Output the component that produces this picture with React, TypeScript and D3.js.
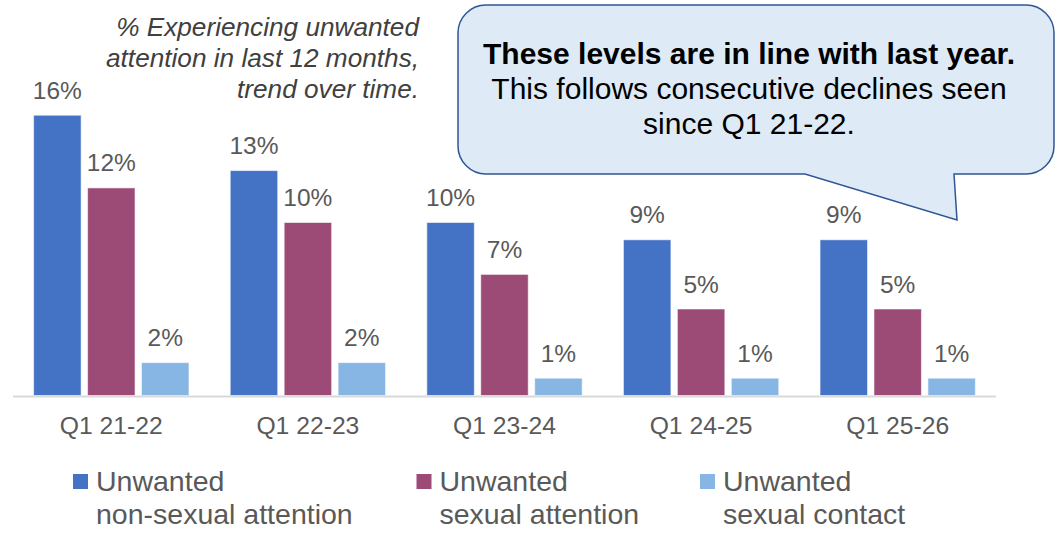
import React from "react";
import * as d3 from "d3";

const categories = ["Q1 21-22", "Q1 22-23", "Q1 23-24", "Q1 24-25", "Q1 25-26"];
const nonSexual = [16.2, 13.0, 10.0, 9.0, 9.0];
const sexualAttention = [12.0, 10.0, 7.0, 5.0, 5.0];
const sexualContact = [1.9, 1.9, 1.0, 1.0, 1.0];
const seriesKeys = ["nonSexual", "sexualAttention", "sexualContact"];
const seriesValues = [nonSexual, sexualAttention, sexualContact];
const seriesColors = ["#4472c4", "#9c4b76", "#88b6e4"];
const legendLines = [
  ["Unwanted", "non-sexual attention"],
  ["Unwanted", "sexual attention"],
  ["Unwanted", "sexual contact"],
];
const titleLines = ["% Experiencing unwanted", "attention in last 12 months,", "trend over time."];
const bubbleBold = "These levels are in line with last year.";
const bubbleLines = ["This follows consecutive declines seen", "since Q1 21-22."];

const W = 1064;
const H = 534;
const FONT = "'Liberation Sans', Arial, Helvetica, sans-serif";
const LABEL = "#595959";

export default function App() {
  const x0 = d3
    .scaleBand<string>()
    .domain(categories)
    .range([13, 996])
    .paddingInner(0.21)
    .paddingOuter(0.105);
  const x1 = d3
    .scaleBand<string>()
    .domain(seriesKeys)
    .range([0, x0.bandwidth()])
    .paddingInner(0.12);
  const y = d3.scaleLinear().domain([0, 18]).range([395.5, 84.1]);

  const bL = 458, bT = 5, bR = 1054, bB = 174, r = 28;
  const bubblePath =
    `M${bL + r},${bT} H${bR - r} A${r},${r} 0 0 1 ${bR},${bT + r} V${bB - r} ` +
    `A${r},${r} 0 0 1 ${bR - r},${bB} H954 L957,220 L805,${bB} H${bL + r} ` +
    `A${r},${r} 0 0 1 ${bL},${bB - r} V${bT + r} A${r},${r} 0 0 1 ${bL + r},${bT} Z`;

  const legendX = [73, 416.5, 700];

  return (
    <svg
      width={W}
      height={H}
      style={{ position: "absolute", left: 0, top: 0, background: "#fff" }}
      fontFamily={FONT}
    >
      <rect x={0} y={0} width={W} height={H} fill="#fff" />
      {/* title */}
      {titleLines.map((t, i) => (
        <text
          key={i}
          x={419}
          y={36 + i * 31}
          textAnchor="end"
          fontSize={26.2}
          fontStyle="italic"
          fill="#404040"
        >
          {t}
        </text>
      ))}

      {/* bars */}
      {categories.map((c, ci) => (
        <g key={c} transform={`translate(${x0(c)},0)`}>
          {seriesKeys.map((k, si) => {
            const v = seriesValues[si][ci];
            const bx = x1(k)!;
            const top = y(v);
            return (
              <g key={k}>
                <rect
                  x={bx}
                  y={top}
                  width={x1.bandwidth()}
                  height={y(0) - top}
                  fill={seriesColors[si]}
                  stroke="rgba(255,255,255,0.55)"
                  strokeWidth={1}
                />
                <text
                  x={bx + x1.bandwidth() / 2}
                  y={top - 16.5}
                  textAnchor="middle"
                  fontSize={24.5}
                  fill={LABEL}
                >
                  {Math.round(v) + "%"}
                </text>
              </g>
            );
          })}
        </g>
      ))}

      {/* axis line */}
      <line x1={13} x2={996} y1={396.5} y2={396.5} stroke="#d9d9d9" strokeWidth={2} />

      {/* category labels */}
      {categories.map((c) => (
        <text
          key={c}
          x={x0(c)! + x0.bandwidth() / 2}
          y={433.5}
          textAnchor="middle"
          fontSize={24.7}
          fill={LABEL}
        >
          {c}
        </text>
      ))}

      {/* legend */}
      {legendLines.map((lines, i) => (
        <g key={i}>
          <rect x={legendX[i]} y={474} width={15} height={15} fill={seriesColors[i]} />
          {lines.map((t, j) => (
            <text key={j} x={legendX[i] + 23} y={490.5 + j * 33.5} fontSize={28.5} fill={LABEL}>
              {t}
            </text>
          ))}
        </g>
      ))}

      {/* callout bubble */}
      <path d={bubblePath} fill="#deebf7" stroke="#2f5597" strokeWidth={1.5} />
      <text x={749} y={64} textAnchor="middle" fontSize={30} fontWeight="bold" fill="#000">
        {bubbleBold}
      </text>
      {bubbleLines.map((t, i) => (
        <text key={i} x={749} y={99 + i * 34.5} textAnchor="middle" fontSize={30} fill="#000">
          {t}
        </text>
      ))}
    </svg>
  );
}
